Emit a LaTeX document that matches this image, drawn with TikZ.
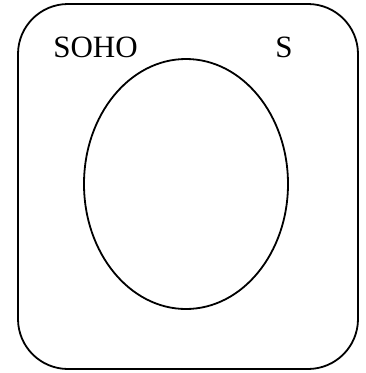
\documentclass[tikz,border=0pt]{standalone}
\usepackage{fontspec}
\setmainfont{Liberation Serif}
\usepackage{tikz}

\begin{document}
\begin{tikzpicture}[x=1pt,y=-1pt,line width=1.8pt,every node/.style={font=\fontsize{31}{37}\selectfont}]
\useasboundingbox (0,0) rectangle (365,373);
\draw[rounded corners=50pt] (18,4) rectangle (358,369);
\draw (186,184) ellipse [x radius=102,y radius=125];
\node[anchor=base] (soho) at (95.5,57) {SOHO};
\node[anchor=base] (s) at (284,57) {S};
\end{tikzpicture}
\end{document}
